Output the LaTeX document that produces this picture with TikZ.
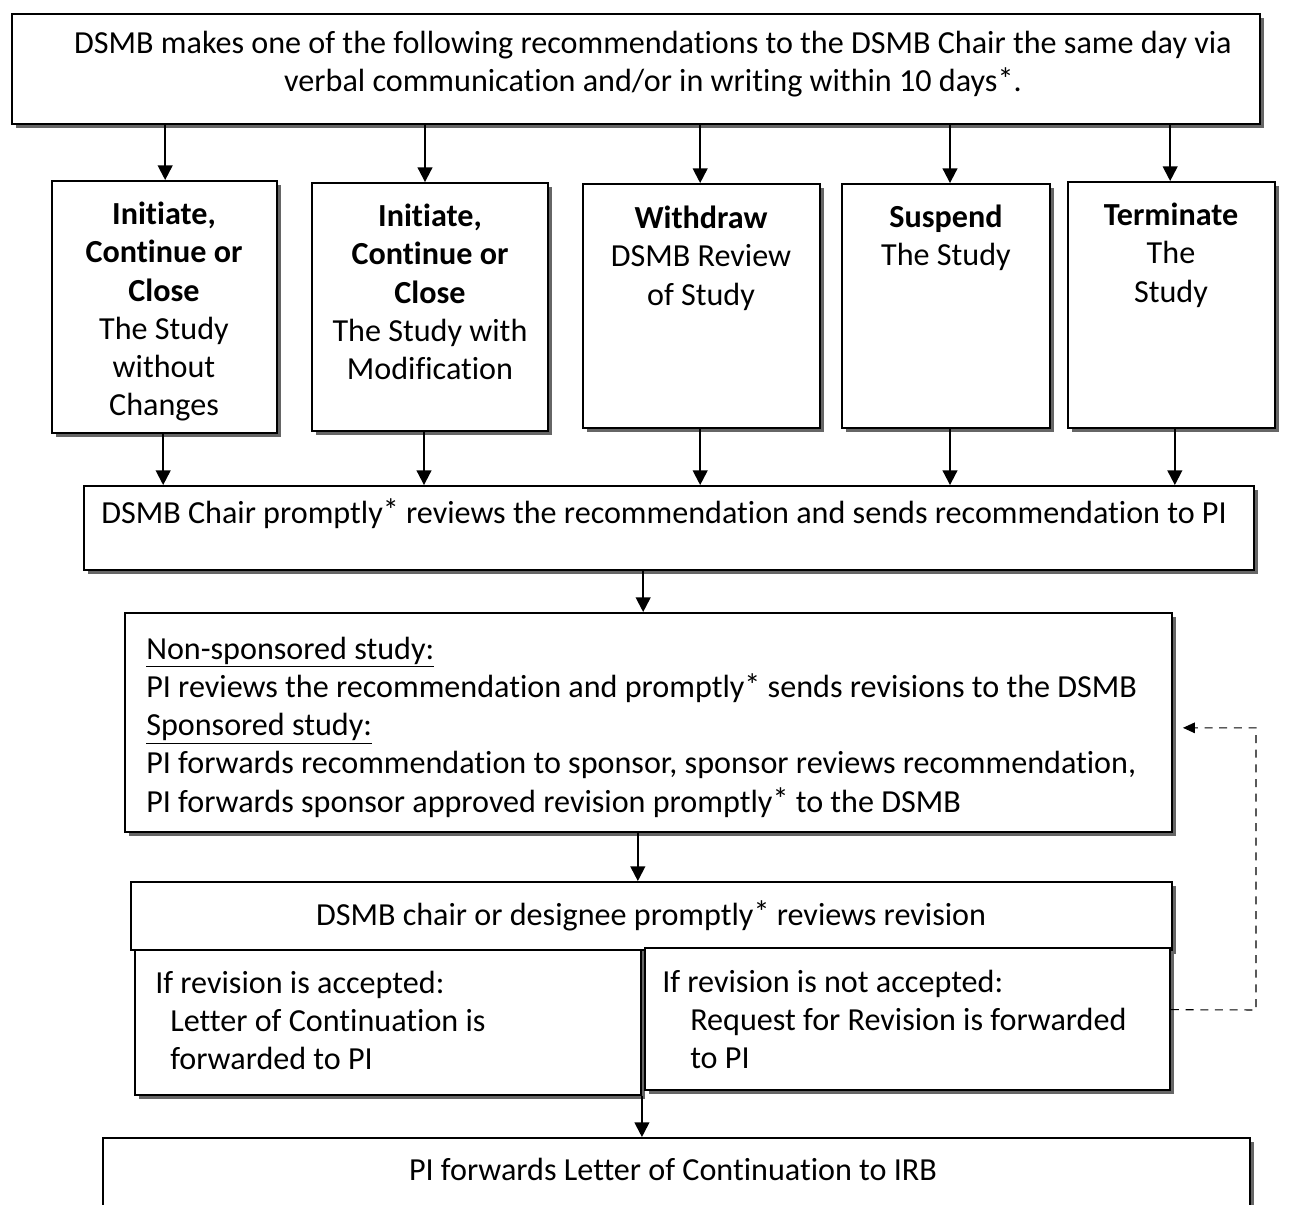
\documentclass[tikz,border=0pt]{standalone}
\usepackage{fontspec}
\setmainfont[Ligatures={NoCommon}]{Carlito}
\usetikzlibrary{fit,shadows,arrows.meta,calc}
\newcommand\rst{\smash{\raisebox{0.05em}{*}}}
\begin{document}
\begin{tikzpicture}[x=0.75pt,y=-0.75pt,
  box/.style={draw, line width=1.4pt, fill=white, inner sep=0pt,
    drop shadow={shadow xshift=3pt, shadow yshift=-3pt, fill=black!60, opacity=1}},
  txt/.style={inner sep=0pt, font=\fontsize{24.1pt}{28.6pt}\selectfont, align=center},
  ltxt/.style={inner sep=0pt, font=\fontsize{24.1pt}{28.6pt}\selectfont, align=left},
  arr/.style={line width=1.5pt, -{Triangle[length=11pt,width=11pt]}},
  dsh/.style={line width=0.8pt, dash pattern=on 6pt off 5pt, -{Triangle[length=9pt,width=8pt]}}]
\useasboundingbox[fill=white] (0,0) rectangle (1293,1205);

% boxes
\node[box, fit={(12,14) (1260,124)}] (top) {};
\node[box, fit={(52,181) (277,433)}] (b1) {};
\node[box, fit={(312,183) (548,431)}] (b2) {};
\node[box, fit={(583,184) (820,428)}] (b3) {};
\node[box, fit={(842,184) (1050,428)}] (b4) {};
\node[box, fit={(1068,182) (1275,428)}] (b5) {};
\node[box, fit={(84,486) (1254,570)}] (chair) {};
\node[box, fit={(125,613) (1172,832)}] (ns) {};
\node[box, fit={(131,882) (1172,950)}] (des) {};
\node[box, fit={(135,950) (641,1095)}] (acc) {};
\node[box, fit={(645,948) (1170,1090)}] (nacc) {};
\node[box, fit={(103,1138) (1250,1230)}] (last) {};

% texts
\node[txt, anchor=north] (ttop) at (653,31) {DSMB makes one of the following recommendations to the DSMB Chair the same day via\\verbal communication and/or in writing within 10 days\rst.};
\node[txt, anchor=north] (t1) at (164,202) {\textbf{Initiate,}\\\textbf{Continue or}\\\textbf{Close}\\The Study\\without\\Changes};
\node[txt, anchor=north] (t2) at (430,204) {\textbf{Initiate,}\\\textbf{Continue or}\\\textbf{Close}\\The Study with\\Modification};
\node[txt, anchor=north] (t3) at (701,206) {\textbf{Withdraw}\\DSMB Review\\of Study};
\node[txt, anchor=north] (t4) at (946,205) {\textbf{Suspend}\\The Study};
\node[txt, anchor=north] (t5) at (1171,203) {\textbf{Terminate}\\The\\Study};
\node[txt, anchor=north] (tchair) at (664,501) {DSMB Chair promptly\rst{} reviews the recommendation and sends recommendation to PI};
\node[ltxt, anchor=north west] (tns) at (146,637) {\underline{Non-sponsored study:}\\PI reviews the recommendation and promptly\rst{} sends revisions to the DSMB\\\underline{Sponsored study:}\\PI forwards recommendation to sponsor, sponsor reviews recommendation,\\PI forwards sponsor approved revision promptly\rst{} to the DSMB};
\node[txt, anchor=north] (tdes) at (651,903) {DSMB chair or designee promptly\rst{} reviews revision};
\node[ltxt, anchor=north west] (tacc1) at (155,971) {If revision is accepted:};
\node[ltxt, anchor=north west] (tacc2) at (170,1009) {Letter of Continuation is\\forwarded to PI};
\node[ltxt, anchor=north west] (tnacc1) at (662,970) {If revision is not accepted:};
\node[ltxt, anchor=north west] (tnacc2) at (690,1008) {Request for Revision is forwarded\\to PI};
\node[txt, anchor=north] (tlast) at (673,1158) {PI forwards Letter of Continuation to IRB};

% connectors
\draw[arr] ([xshift=0.5pt]top.south -| b1.north) -- ([xshift=0.5pt]b1.north);
\draw[arr] ([xshift=-3.75pt]top.south -| b2.north) -- ([xshift=-3.75pt]b2.north);
\draw[arr] ([xshift=-1pt]top.south -| b3.north) -- ([xshift=-1pt]b3.north);
\draw[arr] ([xshift=3pt]top.south -| b4.north) -- ([xshift=3pt]b4.north);
\draw[arr] ([xshift=-1pt]top.south -| b5.north) -- ([xshift=-1pt]b5.north);

\draw[arr] ([xshift=-1pt]b1.south) -- ([xshift=-1pt]b1.south |- chair.north);
\draw[arr] ([xshift=-4.5pt]b2.south) -- ([xshift=-4.5pt]b2.south |- chair.north);
\draw[arr] ([xshift=-1pt]b3.south) -- ([xshift=-1pt]b3.south |- chair.north);
\draw[arr] ([xshift=3pt]b4.south) -- ([xshift=3pt]b4.south |- chair.north);
\draw[arr] ([xshift=2.5pt]b5.south) -- ([xshift=2.5pt]b5.south |- chair.north);

\draw[arr] ([xshift=-4pt]chair.south -| ns.north) -- ([xshift=-4pt]ns.north);
\draw[arr] ([xshift=-8pt]ns.south) -- ([xshift=-8pt]ns.south |- des.north);
\draw[arr] (acc.south east) -- (acc.south east |- last.north);

\coordinate (dcorner) at (1256,1010);
\draw[dsh] ([yshift=7pt]nacc.east) -- (dcorner) |- ([xshift=7.5pt,yshift=-4pt]ns.east);
\end{tikzpicture}
\end{document}
